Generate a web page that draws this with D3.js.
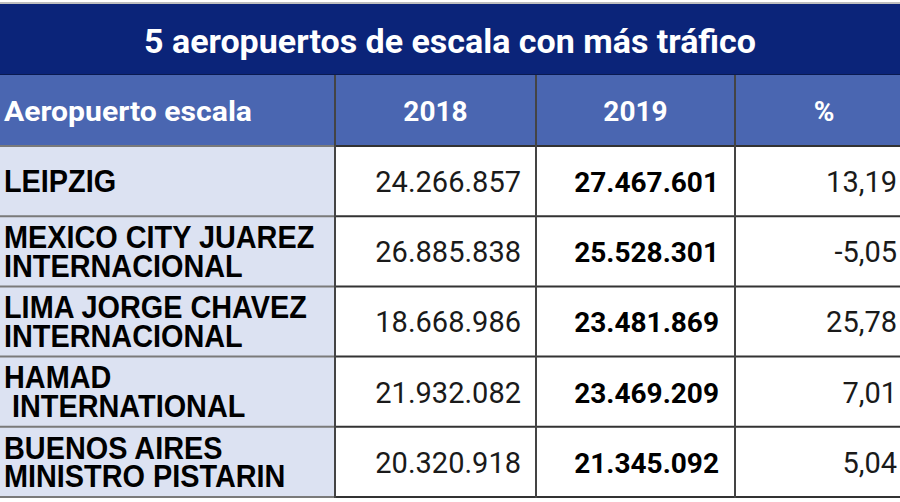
<!DOCTYPE html>
<html><head><meta charset="utf-8">
<script src="https://cdn.jsdelivr.net/npm/d3@7"></script>
<style>html,body{margin:0;padding:0;background:#fff;}</style>
</head><body>
<svg id="c" width="900" height="502"></svg>
<script>
const title = "5 aeropuertos de escala con más tráfico";
const headers = ["Aeropuerto escala", "2018", "2019", "%"];
const airports = [
  ["LEIPZIG"],
  ["MEXICO CITY JUAREZ", "INTERNACIONAL"],
  ["LIMA JORGE CHAVEZ", "INTERNACIONAL"],
  ["HAMAD", " INTERNATIONAL"],
  ["BUENOS AIRES", "MINISTRO PISTARIN"]
];
const values2018 = ["24.266.857", "26.885.838", "18.668.986", "21.932.082", "20.320.918"];
const values2019 = ["27.467.601", "25.528.301", "23.481.869", "23.469.209", "21.345.092"];
const pct = ["13,19", "-5,05", "25,78", "7,01", "5,04"];

const svg = d3.select("#c");
const colEdges = [0, 335, 536, 735, 913];
const y = d3.scaleBand().domain(d3.range(airports.length)).range([146, 497]).paddingInner(0);

// top gray line
svg.append("rect").attr("x", 0).attr("y", 2).attr("width", 900).attr("height", 2).attr("fill", "#bfbfbf");
// title band
svg.append("rect").attr("x", 0).attr("y", 4).attr("width", 900).attr("height", 71).attr("fill", "#0b2479");
svg.append("line").attr("x1", 0).attr("x2", 900).attr("y1", 74.5).attr("y2", 74.5).attr("stroke", "#0a1a50").attr("stroke-width", 1);
svg.append("text").attr("x", 450).attr("y", 53).attr("text-anchor", "middle")
  .attr("fill", "#fff").attr("font-family", "Roboto").attr("font-weight", 700)
  .attr("font-size", 34).attr("textLength", 612).attr("lengthAdjust", "spacingAndGlyphs").text(title);

// header row
svg.append("rect").attr("x", 0).attr("y", 75).attr("width", 900).attr("height", 71).attr("fill", "#4a66b1");
headers.forEach((h, i) => {
  const t = svg.append("text").attr("y", 121).attr("fill", "#fff")
    .attr("font-family", "Roboto").attr("font-weight", 700).attr("font-size", 28).text(h);
  if (i === 0) t.attr("x", 4).attr("textLength", 248).attr("lengthAdjust", "spacingAndGlyphs");
  else t.attr("x", (colEdges[i] + colEdges[i + 1]) / 2).attr("text-anchor", "middle");
});

// body
const rows = svg.append("g").selectAll("g").data(airports).join("g")
  .attr("transform", (d, i) => `translate(0,${y(i)})`);
rows.append("rect").attr("x", 0).attr("width", 335).attr("height", y.bandwidth()).attr("fill", "#dce2f2");
rows.append("rect").attr("x", 335).attr("width", 565).attr("height", y.bandwidth()).attr("fill", "#fff");
rows.each(function(d, i) {
  const g = d3.select(this);
  const h = y.bandwidth();
  const lh = 28.5;
  const sy = 1.09;
  const start = h / 2 - (d.length - 1) * lh / 2 + 11;
  const t = g.append("text").attr("x", 0).attr("y", 0)
    .attr("transform", `translate(4,${start}) scale(1.03,${sy})`)
    .attr("fill", "#000")
    .attr("font-family", "Liberation Sans").attr("font-weight", 700).attr("font-size", 28)
    .attr("xml:space", "preserve").style("white-space", "pre");
  d.forEach((l, k) => {
    t.append("tspan").attr("x", 0).attr("y", k * lh / sy).text(l);
  });
  g.append("text").attr("x", 521).attr("y", h / 2 + 11).attr("text-anchor", "end")
    .attr("font-family", "Roboto").attr("font-size", 29).attr("fill", "#1a1a1a").text(values2018[i]);
  g.append("text").attr("x", 719).attr("y", h / 2 + 11).attr("text-anchor", "end")
    .attr("font-family", "Roboto").attr("font-weight", 700).attr("font-size", 28).attr("fill", "#000").text(values2019[i]);
  g.append("text").attr("x", 897).attr("y", h / 2 + 11).attr("text-anchor", "end")
    .attr("font-family", "Roboto").attr("font-size", 29).attr("fill", "#1a1a1a").text(pct[i]);
});

// horizontal separators
const seps = d3.range(airports.length + 1).map(i => i < airports.length ? y(i) : y(airports.length - 1) + y.bandwidth());
seps.forEach(sy => {
  svg.append("line").attr("x1", 0).attr("x2", 335).attr("y1", sy).attr("y2", sy).attr("stroke", "#7a7a7a").attr("stroke-width", 2);
  svg.append("line").attr("x1", 335).attr("x2", 900).attr("y1", sy).attr("y2", sy).attr("stroke", "#333").attr("stroke-width", 2);
});
// vertical separators
[335, 536, 735].forEach(vx => {
  svg.append("line").attr("x1", vx).attr("x2", vx).attr("y1", 75).attr("y2", 498).attr("stroke", "#444").attr("stroke-width", 2);
});
</script>
</body></html>
